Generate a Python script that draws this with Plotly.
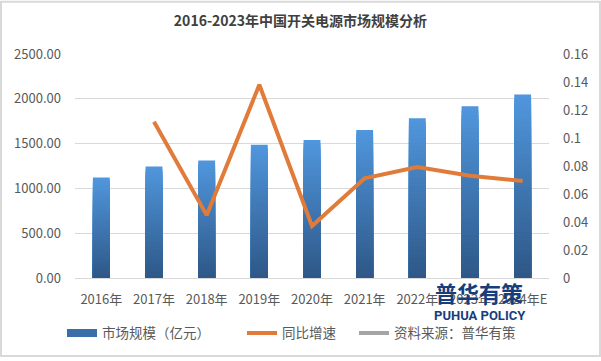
import plotly.graph_objects as go

# ---- data ----
categories = ["2016年", "2017年", "2018年", "2019年", "2020年", "2021年", "2022年", "2023年", "2024年E"]
market_size = [1123, 1244, 1310, 1486, 1541, 1651, 1784, 1916, 2048]
growth_x = ["2017年", "2018年", "2019年", "2020年", "2021年", "2022年", "2023年", "2024年E"]
growth_rate = [0.1116, 0.0449, 0.138, 0.0371, 0.0712, 0.0792, 0.0731, 0.0693]
left_ticks = [0, 500, 1000, 1500, 2000, 2500]
right_ticks = [0, 0.02, 0.04, 0.06, 0.08, 0.10, 0.12, 0.14, 0.16]
right_ticktext = ["0", "0.02", "0.04", "0.06", "0.08", "0.1", "0.12", "0.14", "0.16"]

W, H = 601, 361
ML, MR, MT, MB = 75, 52, 54, 80
PW, PH = W - ML - MR, H - MT - MB

def px_x(p):
    return (p - ML) / PW

def px_y(p):
    return (H - MB - p) / PH

FONT = "Noto Sans CJK SC"
TXT = "#595959"

fig = go.Figure()

# gradient bars: overlayed bars of decreasing height, darker towards the bottom
N = 40
top_rgb = (80, 150, 220)
bot_rgb = (46, 88, 136)
for k in range(N):
    f = k / (N - 1)
    c = tuple(round(top_rgb[i] + (bot_rgb[i] - top_rgb[i]) * f) for i in range(3))
    frac = (N - k) / N
    fig.add_trace(go.Bar(
        x=categories, y=[v * frac for v in market_size],
        width=0.32, marker=dict(color="rgb(%d,%d,%d)" % c, line=dict(width=0)),
        showlegend=False, hoverinfo="skip" if k else "y", yaxis="y",
    ))

fig.add_trace(go.Scatter(
    x=growth_x, y=growth_rate, mode="lines", yaxis="y2",
    line=dict(color="#E07B39", width=4), showlegend=False,
))

# legend entries
fig.add_trace(go.Scatter(x=[None], y=[None], mode="lines", name="市场规模（亿元）",
                         line=dict(color="#3A6EA8", width=8), legend="legend"))
fig.add_trace(go.Scatter(x=[None], y=[None], mode="lines", name="同比增速",
                         line=dict(color="#E07B39", width=4), legend="legend2"))
fig.add_trace(go.Scatter(x=[None], y=[None], mode="lines", name="资料来源：普华有策",
                         line=dict(color="#A5A5A5", width=4), legend="legend3"))

leg_common = dict(orientation="h", yanchor="middle", xanchor="left",
                  bgcolor="rgba(0,0,0,0)", font=dict(family=FONT, size=13.5, color=TXT))
leg_y = px_y(337)

fig.update_layout(
    width=W, height=H,
    margin=dict(l=ML, r=MR, t=MT, b=MB),
    paper_bgcolor="white", plot_bgcolor="white",
    barmode="overlay",
    title=dict(text="2016-2023年中国开关电源市场规模分析", x=0.5, xanchor="center",
               y=1 - 20.7 / H, yanchor="middle", yref="container",
               font=dict(family=FONT, size=14, color="#404040", weight="bold")),
    xaxis=dict(type="category", categoryorder="array", categoryarray=categories,
               showgrid=False, showline=False, ticks="", ticklabelstandoff=12,
               tickfont=dict(family=FONT, size=13, color=TXT)),
    yaxis=dict(range=[0, 2500], tickvals=left_ticks, tickformat=".2f",
               showgrid=True, gridcolor="#D9D9D9", gridwidth=1,
               zeroline=True, zerolinecolor="#D9D9D9", zerolinewidth=1,
               ticks="", ticklabelstandoff=13,
               tickfont=dict(family=FONT, size=13, color=TXT)),
    yaxis2=dict(range=[0, 0.16], tickvals=right_ticks, ticktext=right_ticktext,
                overlaying="y", side="right", showgrid=False, zeroline=False,
                ticks="", ticklabelstandoff=13,
                tickfont=dict(family=FONT, size=13, color=TXT)),
    legend=dict(x=px_x(62), y=leg_y, **leg_common),
    legend2=dict(x=px_x(242), y=leg_y, **leg_common),
    legend3=dict(x=px_x(354), y=leg_y, **leg_common),
    showlegend=True,
    shapes=[dict(type="rect", xref="paper", yref="paper", layer="above",
                 x0=px_x(1), x1=px_x(600), y0=px_y(360), y1=px_y(1),
                 line=dict(color="#D9D9D9", width=2), fillcolor="rgba(0,0,0,0)")],
    annotations=[
        dict(text="普华有策", xref="paper", yref="paper", x=px_x(479), y=px_y(295.5),
             xanchor="center", yanchor="middle", showarrow=False,
             font=dict(family=FONT, size=22, color="#173E7C", weight="bold")),
        dict(text="PUHUA POLICY", xref="paper", yref="paper", x=px_x(480), y=px_y(319.5),
             xanchor="center", yanchor="middle", showarrow=False,
             font=dict(family="Roboto", size=13, color="#173E7C", weight="bold")),
    ],
)

fig.write_html("out.html", config={"displayModeBar": False},
               post_script="document.body.style.margin='0';document.body.style.overflow='hidden';")
